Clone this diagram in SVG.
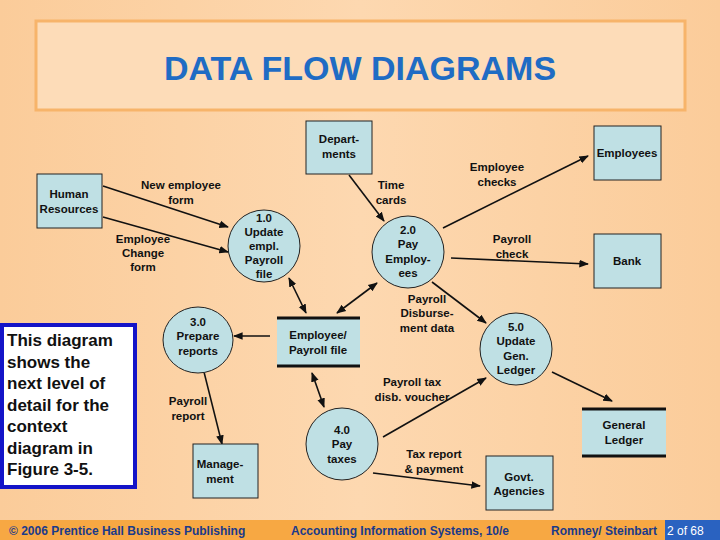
<svg xmlns="http://www.w3.org/2000/svg" width="720" height="540" viewBox="0 0 720 540">
<style>
.n{fill:#bfe0e4;stroke:#222;stroke-width:1}
.t{font-family:"Liberation Sans",Arial,sans-serif;font-size:11.5px;font-weight:bold;fill:#111;text-anchor:middle}
.c line{stroke:#111;stroke-width:1.6}
.f{font-family:"Liberation Sans",Arial,sans-serif;font-size:12px;font-weight:bold;fill:#1a3a8a}
</style>
<defs>
<linearGradient id="bg" x1="0" x2="1" y1="0" y2="0"><stop offset="0" stop-color="#fbcc9a"/><stop offset="0.5" stop-color="#fdd8b0"/><stop offset="1" stop-color="#fbcc9a"/></linearGradient>
<marker id="a" viewBox="0 0 10 10" refX="9" refY="5" markerWidth="6" markerHeight="6" orient="auto-start-reverse"><path d="M0,1 L10,5 L0,9 z" fill="#111"/></marker>
</defs>
<rect width="720" height="540" fill="url(#bg)"/>
<rect x="36" y="21" width="649" height="89" fill="#fddcb8" stroke="#f7b46a" stroke-width="3"/>
<text x="360" y="80" text-anchor="middle" font-family="Liberation Sans,Arial,sans-serif" font-size="34" font-weight="bold" fill="#1f6cc4">DATA FLOW DIAGRAMS</text>

<g class="c">
<line x1="103" y1="186" x2="228" y2="227" marker-end="url(#a)"/>
<line x1="103" y1="217" x2="228" y2="252" marker-end="url(#a)"/>
<line x1="349" y1="175" x2="384" y2="221" marker-end="url(#a)"/>
<line x1="377" y1="283" x2="337" y2="313" marker-start="url(#a)" marker-end="url(#a)"/>
<line x1="289" y1="278" x2="306" y2="313" marker-start="url(#a)" marker-end="url(#a)"/>
<line x1="443" y1="228" x2="588" y2="156" marker-end="url(#a)"/>
<line x1="451" y1="258" x2="588" y2="264" marker-end="url(#a)"/>
<line x1="432" y1="282" x2="486" y2="323" marker-end="url(#a)"/>
<line x1="270" y1="336" x2="234" y2="336" marker-end="url(#a)"/>
<line x1="204" y1="372" x2="222" y2="444" marker-end="url(#a)"/>
<line x1="312" y1="373" x2="324" y2="407" marker-start="url(#a)" marker-end="url(#a)"/>
<line x1="383" y1="437" x2="486" y2="378" marker-end="url(#a)"/>
<line x1="373" y1="473" x2="480" y2="486" marker-end="url(#a)"/>
<line x1="552" y1="372" x2="612" y2="401" marker-end="url(#a)"/>
</g>

<g class="t">
<text x="181" y="189">New employee</text><text x="181" y="204">form</text>
<text x="143" y="243">Employee</text><text x="143" y="257">Change</text><text x="143" y="271">form</text>
<text x="391" y="189">Time</text><text x="391" y="204">cards</text>
<text x="497" y="171">Employee</text><text x="497" y="186">checks</text>
<text x="512" y="243">Payroll</text><text x="512" y="258">check</text>
<text x="427" y="303">Payroll</text><text x="427" y="317">Disburse-</text><text x="427" y="332">ment data</text>
<text x="412" y="386">Payroll tax</text><text x="412" y="401">disb. voucher</text>
<text x="188" y="405">Payroll</text><text x="188" y="420">report</text>
<text x="434" y="458">Tax report</text><text x="434" y="473">&amp; payment</text>
</g>

<g id="hr"><rect class="n" x="37" y="174" width="65" height="54"/><text class="t" x="69" y="198">Human</text><text class="t" x="69" y="213">Resources</text></g>
<g id="dept"><rect class="n" x="306" y="121" width="66" height="53"/><text class="t" x="339" y="143">Depart-</text><text class="t" x="339" y="158">ments</text></g>
<g id="emp"><rect class="n" x="594" y="126" width="67" height="54"/><text class="t" x="627" y="157">Employees</text></g>
<g id="bank"><rect class="n" x="594" y="234" width="67" height="54"/><text class="t" x="627" y="265">Bank</text></g>
<g id="p1"><circle class="n" cx="264" cy="246" r="36"/><text class="t" x="264" y="222">1.0</text><text class="t" x="264" y="236">Update</text><text class="t" x="264" y="250">empl.</text><text class="t" x="264" y="264">Payroll</text><text class="t" x="264" y="278">file</text></g>
<g id="p2"><circle class="n" cx="408" cy="252" r="36"/><text class="t" x="408" y="234">2.0</text><text class="t" x="408" y="248">Pay</text><text class="t" x="408" y="263">Employ-</text><text class="t" x="408" y="277">ees</text></g>
<g id="p3"><ellipse class="n" cx="198" cy="340" rx="35" ry="33"/><text class="t" x="198" y="326">3.0</text><text class="t" x="198" y="340">Prepare</text><text class="t" x="198" y="355">reports</text></g>
<g id="file"><rect x="277" y="317" width="83" height="50" fill="#bfe0e4"/><line x1="277" y1="318" x2="360" y2="318" stroke="#111" stroke-width="3"/><line x1="277" y1="366" x2="360" y2="366" stroke="#111" stroke-width="3"/><text class="t" x="318" y="339">Employee/</text><text class="t" x="318" y="354">Payroll file</text></g>
<g id="p5"><ellipse class="n" cx="516" cy="349" rx="36" ry="36"/><text class="t" x="516" y="331">5.0</text><text class="t" x="516" y="345">Update</text><text class="t" x="516" y="360">Gen.</text><text class="t" x="516" y="374">Ledger</text></g>
<g id="p4"><ellipse class="n" cx="342" cy="444" rx="36" ry="36"/><text class="t" x="342" y="434">4.0</text><text class="t" x="342" y="448">Pay</text><text class="t" x="342" y="463">taxes</text></g>
<g id="gl"><rect x="582" y="408" width="84" height="49" fill="#bfe0e4"/><line x1="582" y1="409" x2="666" y2="409" stroke="#111" stroke-width="3"/><line x1="582" y1="456" x2="666" y2="456" stroke="#111" stroke-width="3"/><text class="t" x="624" y="429">General</text><text class="t" x="624" y="444">Ledger</text></g>
<g id="govt"><rect class="n" x="486" y="456" width="67" height="54"/><text class="t" x="519" y="481">Govt.</text><text class="t" x="519" y="495">Agencies</text></g>
<g id="mgmt"><rect class="n" x="193" y="444" width="65" height="54"/><text class="t" x="220" y="468">Manage-</text><text class="t" x="220" y="483">ment</text></g>

<g id="note"><rect x="2" y="325" width="133" height="162" fill="#fff" stroke="#1414c8" stroke-width="4"/>
<g font-family="Liberation Sans,Arial,sans-serif" font-size="17" font-weight="bold" fill="#111">
<text x="7" y="346">This diagram</text><text x="7" y="368">shows the</text><text x="7" y="389">next level of</text><text x="7" y="411">detail for the</text><text x="7" y="432">context</text><text x="7" y="454">diagram in</text><text x="7" y="475">Figure 3-5.</text></g></g>

<rect x="0" y="520" width="720" height="20" fill="#f7a843"/>
<rect x="665" y="520" width="55" height="20" fill="#2a62c0"/>
<text class="f" x="9" y="535">© 2006 Prentice Hall Business Publishing</text>
<text class="f" x="400" y="535" text-anchor="middle">Accounting Information Systems, 10/e</text>
<text class="f" x="657" y="535" text-anchor="end">Romney/ Steinbart</text>
<text class="f" x="667" y="535" fill="#fff" style="fill:#fff;font-weight:normal">2 of 68</text>
</svg>
